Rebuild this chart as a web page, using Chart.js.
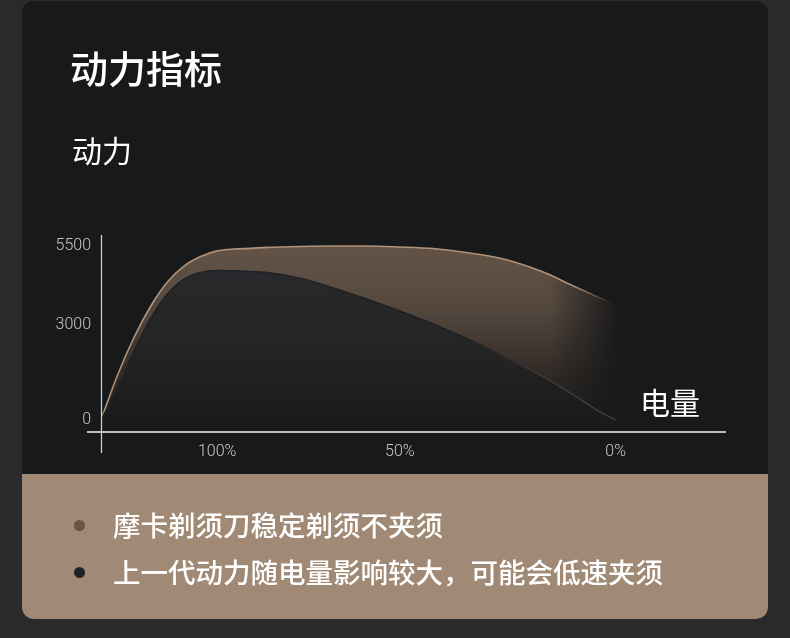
<!DOCTYPE html>
<html>
<head>
<meta charset="utf-8">
<script src="https://cdn.jsdelivr.net/npm/chart.js@4.4.0/dist/chart.umd.min.js"></script>
<style>
  html, body { margin: 0; padding: 0; width: 790px; height: 638px; overflow: hidden; background: #2a2a2b; }
  body { position: relative; font-family: "Noto Sans CJK SC", "Noto Sans", sans-serif; }
  .card { position: absolute; left: 22px; top: 1px; width: 746px; height: 618px; border-radius: 12px; background: #18191b; overflow: hidden; }
  .card .foot { position: absolute; left: 0; right: 0; top: 473px; bottom: 0; background: #a08975; }
  #chart { position: absolute; left: 0; top: 0; z-index: 1; }
  .txt { position: absolute; z-index: 2; color: #fff; white-space: nowrap; line-height: 1; }
  .title { left: 70px; top: 48px; font-size: 38px; font-weight: 500; }
  .ytitle { left: 72px; top: 134px; font-size: 30px; }
  .xtitle { left: 640px; top: 386px; font-size: 30px; }
  .leg { left: 113px; font-size: 27.5px; font-weight: 500; }
  .dot { position: absolute; z-index: 2; width: 11px; height: 11px; border-radius: 50%; }
</style>
</head>
<body>
<div class="card"><div class="foot"></div></div>
<canvas id="chart" width="790" height="638"></canvas>
<div class="txt title">动力指标</div>
<div class="txt ytitle">动力</div>
<div class="txt xtitle">电量</div>
<div id="legend"></div>
<script>
// positions along the battery axis (chart steps), ticks sit at 100% / 50% / 0%
const xSteps = [0, 1, 2, 3, 4, 5, 6, 7, 8, 9, 10, 12, 14, 16, 18, 20, 22, 24, 26, 27, 28, 29, 30, 31, 32];
const xTickPos = [7, 18, 31];
const xTickLabels = ['100%', '50%', '0%'];
const yTickValues = [0, 3000, 5500];

// power
const mochaPower = [0, 1420, 2620, 3600, 4360, 4860, 5160, 5340, 5400, 5420, 5450, 5480, 5495, 5495, 5465, 5415, 5290, 5115, 4800, 4595, 4340, 4105, 3870, 3660, 3470];
const oldPower = [0, 1010, 2180, 3220, 3980, 4450, 4660, 4720, 4710, 4690, 4660, 4480, 4170, 3820, 3440, 3030, 2575, 2085, 1545, 1260, 945, 615, 270, 0, null];

const seriesNames = ['摩卡剃须刀稳定剃须不夹须', '上一代动力随电量影响较大，可能会低速夹须'];
const seriesDots = ['#6b5242', '#1c222a'];

// legend in the beige strip
const legendTops = [511, 558];
const legendEl = document.getElementById('legend');
seriesNames.forEach((name, i) => {
  const dot = document.createElement('div');
  dot.className = 'dot';
  dot.style.background = seriesDots[i];
  dot.style.left = '74px';
  dot.style.top = (legendTops[i] + 8.5) + 'px';
  legendEl.appendChild(dot);
  const t = document.createElement('div');
  t.className = 'txt leg';
  t.style.top = legendTops[i] + 'px';
  t.textContent = name;
  legendEl.appendChild(t);
});

function toPoints(values) {
  return xSteps.map((x, i) => ({ x: x, y: values[i] })).filter(p => p.y !== null);
}

let brownCache = null;
function brownFill(chart) {
  const a = chart.chartArea;
  if (!a) return 'transparent';
  const key = chart.width + 'x' + chart.height + ':' + a.left + ',' + a.top;
  if (brownCache && brownCache.key === key) return brownCache.pattern;
  const off = document.createElement('canvas');
  off.width = chart.width;
  off.height = chart.height;
  const o = off.getContext('2d');
  const v = o.createLinearGradient(0, a.top + 12, 0, a.bottom);
  v.addColorStop(0, '#645447');
  v.addColorStop(0.35, '#54483e');
  v.addColorStop(0.7, '#312a25');
  v.addColorStop(1, '#1a1a1b');
  o.fillStyle = v;
  o.fillRect(0, 0, off.width, off.height);
  // soft fade at the right end
  o.globalCompositeOperation = 'destination-in';
  const xs = chart.scales.x;
  const h = o.createLinearGradient(xs.getPixelForValue(27), 0, xs.getPixelForValue(31.3), 0);
  h.addColorStop(0, 'rgba(0,0,0,1)');
  h.addColorStop(1, 'rgba(0,0,0,0)');
  o.fillStyle = h;
  o.fillRect(0, 0, off.width, off.height);
  brownCache = { key: key, pattern: chart.ctx.createPattern(off, 'no-repeat') };
  return brownCache.pattern;
}

function brownLine(chart) {
  const a = chart.chartArea;
  if (!a) return '#ad9077';
  const xs = chart.scales.x;
  const g = chart.ctx.createLinearGradient(xs.getPixelForValue(28.3), 0, xs.getPixelForValue(30.8), 0);
  g.addColorStop(0, 'rgba(176,147,121,1)');
  g.addColorStop(1, 'rgba(176,147,121,0)');
  return g;
}

function darkFill(chart) {
  const a = chart.chartArea;
  if (!a) return '#222325';
  const g = chart.ctx.createLinearGradient(0, a.top + 38, 0, a.bottom);
  g.addColorStop(0, '#28292c');
  g.addColorStop(0.45, '#252524');
  g.addColorStop(1, '#18191b');
  return g;
}

function darkLine(chart) {
  const a = chart.chartArea;
  if (!a) return '#202225';
  const xs = chart.scales.x;
  const g = chart.ctx.createLinearGradient(xs.getPixelForValue(22), 0, xs.getPixelForValue(27), 0);
  g.addColorStop(0, '#1e2023');
  g.addColorStop(1, '#3a3c40');
  return g;
}

// axis lines crossing past each other like the original
const crossAxes = {
  id: 'crossAxes',
  afterDatasetsDraw(chart) {
    const { ctx, chartArea: a } = chart;
    ctx.save();
    ctx.strokeStyle = '#d4d4d4';
    ctx.lineWidth = 1.2;
    ctx.beginPath();
    ctx.moveTo(a.left + 0.5, a.top + 5);
    ctx.lineTo(a.left + 0.5, a.bottom + 21);
    ctx.stroke();
    ctx.strokeStyle = '#bdbdbd';
    ctx.lineWidth = 2;
    ctx.beginPath();
    ctx.moveTo(a.left - 14, a.bottom);
    ctx.lineTo(a.right, a.bottom);
    ctx.stroke();
    ctx.restore();
  }
};

const tickFont = { family: 'Roboto', weight: 300, size: 16 };

new Chart(document.getElementById('chart').getContext('2d'), {
  type: 'line',
  data: {
    datasets: [{
      label: seriesNames[0],
      data: toPoints(mochaPower),
      borderColor: ctx => brownLine(ctx.chart),
      borderWidth: 1.6,
      backgroundColor: ctx => brownFill(ctx.chart),
      fill: 'start',
      pointRadius: 0,
      cubicInterpolationMode: 'monotone',
      order: 2
    }, {
      label: seriesNames[1],
      data: toPoints(oldPower),
      borderColor: ctx => darkLine(ctx.chart),
      borderWidth: 1.5,
      backgroundColor: ctx => darkFill(ctx.chart),
      fill: 'start',
      pointRadius: 0,
      cubicInterpolationMode: 'monotone',
      order: 1
    }]
  },
  options: {
    responsive: false,
    animation: false,
    layout: { padding: { left: 46, right: 64, top: 230, bottom: 176 } },
    plugins: { legend: { display: false }, tooltip: { enabled: false } },
    scales: {
      x: {
        type: 'linear',
        min: 0,
        max: 37.65,
        grid: { display: false, drawTicks: false },
        border: { display: false },
        afterBuildTicks: scale => { scale.ticks = xTickPos.map(v => ({ value: v })); },
        afterFit: scale => { scale.height = 30; },
        ticks: {
          autoSkip: false,
          maxRotation: 0,
          padding: 10,
          color: '#c8c8c8',
          font: tickFont,
          callback: v => xTickLabels[xTickPos.indexOf(v)]
        }
      },
      y: {
        type: 'linear',
        min: -380,
        max: 6000,
        grid: { display: false, drawTicks: false },
        border: { display: false },
        afterBuildTicks: scale => { scale.ticks = yTickValues.map(v => ({ value: v })); },
        afterFit: scale => { scale.width = 55; },
        ticks: {
          padding: 10,
          color: '#c8c8c8',
          font: tickFont,
          callback: v => String(v)
        }
      }
    }
  },
  plugins: [crossAxes]
});
</script>
</body>
</html>
